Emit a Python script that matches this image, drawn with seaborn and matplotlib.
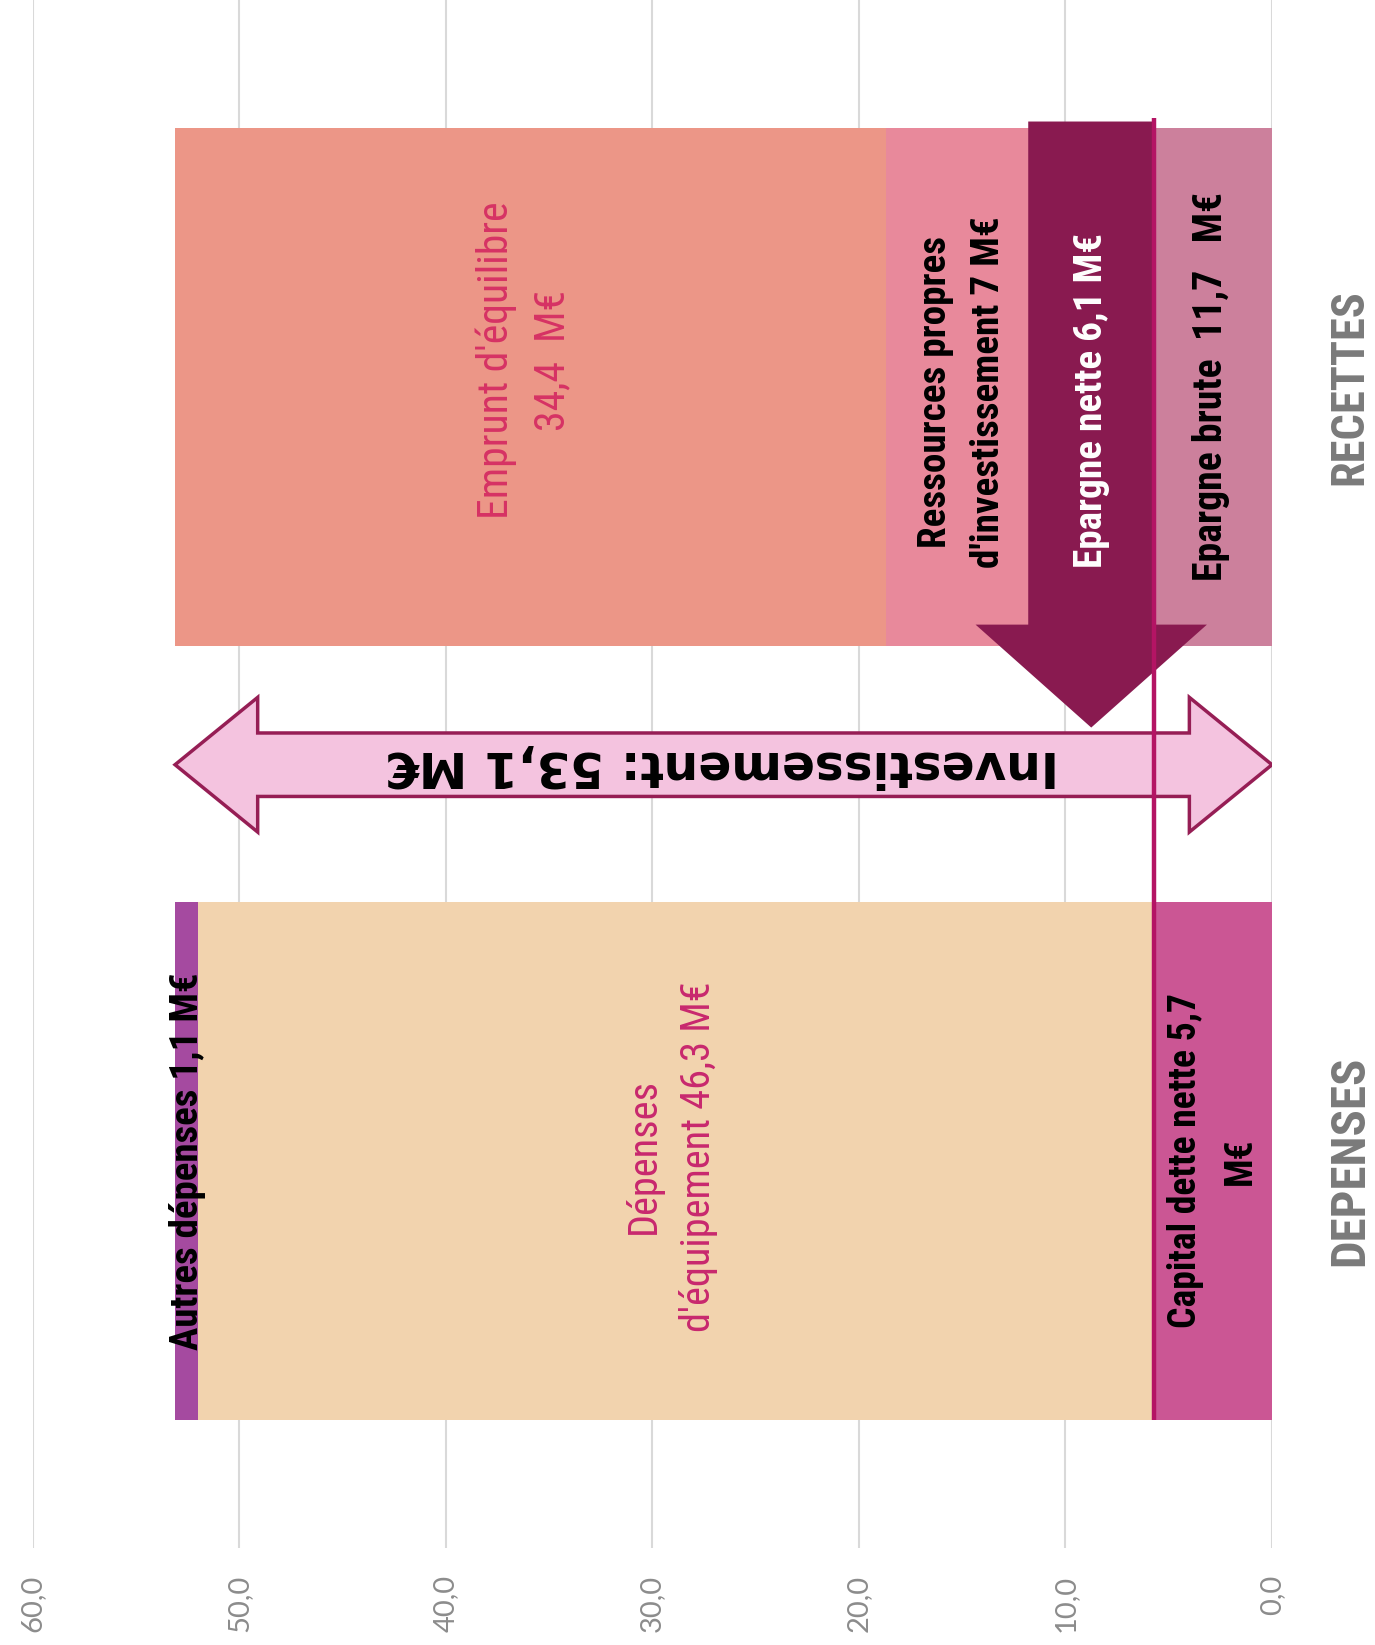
import os
import matplotlib
matplotlib.use("Agg")
import matplotlib.pyplot as plt
from matplotlib.patches import Polygon
from matplotlib.ticker import FuncFormatter, MultipleLocator
from matplotlib import font_manager as fm
from matplotlib.transforms import blended_transform_factory
import seaborn as sns
import pandas as pd

# ---------------- data ----------------
categories = ["RECETTES", "DEPENSES"]
recettes_labels = ["Epargne brute", "Ressources propres", "Emprunt d'équilibre"]
recettes_values = [11.7, 7.0, 34.4]
depenses_labels = ["Capital dette nette", "Dépenses d'équipement", "Autres dépenses"]
depenses_values = [5.7, 46.3, 1.1]
epargne_nette = 6.1
investissement = 53.1

recettes_colors = ["#CC809C", "#E8899B", "#EC9687"]
depenses_colors = ["#CB5694", "#F2D3AE", "#A54AA0"]

sns.set_style("white")
plt.rcParams["font.family"] = ["Lato", "DejaVu Sans"]


def find_font(names):
    files = {os.path.basename(f.fname).lower(): f.fname for f in fm.fontManager.ttflist}
    for n in names:
        if n in files:
            return files[n]
    return None


bold_file = find_font(["liberationsansnarrow-bold.ttf", "notosans-condensedbold.ttf",
                       "robotocondensed-bold.ttf", "dejavusanscondensed-bold.ttf",
                       "liberationsans-bold.ttf"])
reg_file = find_font(["liberationsansnarrow-regular.ttf", "notosans-condensedmedium.ttf",
                      "notosans-condensed.ttf", "robotocondensed-regular.ttf",
                      "dejavusanscondensed.ttf", "liberationsans-regular.ttf"])


def fprop(fname, weight):
    if fname:
        return fm.FontProperties(fname=fname)
    return fm.FontProperties(family="DejaVu Sans", weight=weight)


fig = plt.figure(figsize=(13.75, 16.45), dpi=100)
ax = fig.add_axes([32.5 / 1375, (1645 - 1548) / 1645, (1272 - 32.5) / 1375, 1548 / 1645])

# build stacked segments as cumulative ends
rows = []
for cat, vals, cols in [("RECETTES", recettes_values, recettes_colors),
                        ("DEPENSES", depenses_values, depenses_colors)]:
    cum = 0
    for v, c in zip(vals, cols):
        cum += v
        rows.append({"cat": cat, "end": cum, "color": c})
seg = pd.DataFrame(rows).sort_values("end", ascending=False)

BW = 0.67
for _, r in seg.iterrows():
    sns.barplot(data=pd.DataFrame({"cat": [r["cat"]], "end": [r["end"]]}),
                x="end", y="cat", order=categories, orient="h",
                color=r["color"], width=BW, saturation=1, edgecolor="none",
                linewidth=0, ax=ax, zorder=2)

# axes styling
ax.set_xlim(60, 0)
ax.set_ylim(1.5, -0.5)
ax.xaxis.set_major_locator(MultipleLocator(10))
ax.xaxis.set_major_formatter(FuncFormatter(lambda v, p: f"{v:.1f}".replace(".", ",")))
ax.grid(axis="x", color="#D9D9D9", lw=1.5, zorder=0)
ax.grid(axis="y", visible=False)
ax.set_axisbelow(True)
for s in ax.spines.values():
    s.set_visible(False)
ax.set_xlabel("")
ax.set_ylabel("")
ax.tick_params(axis="x", length=0, pad=19, labelsize=21, labelcolor="#8C8C8C", labelrotation=90)
ax.yaxis.tick_right()
ax.tick_params(axis="y", length=0, pad=56)

renderer = fig.canvas.get_renderer()


def fit(t, target, maxsize=None, along="h"):
    bb = t.get_window_extent(renderer=renderer)
    length = bb.height if along == "h" else bb.width
    size = t.get_fontsize() * target / length
    if maxsize:
        size = min(size, maxsize)
    t.set_fontsize(size)
    return size


cat_len = {"RECETTES": 196, "DEPENSES": 210}
for lab in ax.get_yticklabels():
    lab.set_fontproperties(fprop(bold_file, "bold"))
    lab.set_fontsize(30)
    lab.set_rotation(90)
    lab.set_va("center")
    lab.set_ha("center")
    lab.set_color("#7A7A7A")
    fit(lab, cat_len.get(lab.get_text(), 200), maxsize=40)

# Epargne nette arrow (dark)
cap = depenses_values[0]
x0, x1 = cap, cap + epargne_nette
xc = (x0 + x1) / 2
arrow = Polygon([[x0, -0.343], [x1, -0.343], [x1, 0.307], [xc + 5.6, 0.307],
                 [xc, 0.44], [xc - 5.6, 0.307], [x0, 0.307]],
                closed=True, facecolor="#891A50", edgecolor="none", zorder=3)
ax.add_patch(arrow)

# Investissement double arrow
yc, sh, hh, hl = 0.488, 0.041, 0.087, 4.0
L, R = investissement, 0.0
dbl = Polygon([[L, yc], [L - hl, yc - hh], [L - hl, yc - sh], [R + hl, yc - sh],
               [R + hl, yc - hh], [R, yc], [R + hl, yc + hh], [R + hl, yc + sh],
               [L - hl, yc + sh], [L - hl, yc + hh]],
              closed=True, facecolor="#F4C3DF", edgecolor="#961E55", lw=2.5, zorder=4)
ax.add_patch(dbl)
ax.text(26.6, yc, "Investissement: 53,1 M€", rotation=180, ha="center", va="center",
        fontsize=35, fontweight="bold", family=["DejaVu Sans"], color="black", zorder=6)

# vertical line at capital dette
ax.plot([cap, cap], [-0.348, 1.335], color="#B41464", lw=3.2, zorder=5, solid_capstyle="butt")


# segment labels
def lbl(x, y, s, target, color="black", bold=True, gap=48):
    t = ax.text(x, y, s, rotation=90, ha="center", va="center", fontsize=20,
                color=color, multialignment="center", zorder=7,
                fontproperties=fprop(bold_file if bold else reg_file, "bold" if bold else "normal"))
    size = fit(t, target, maxsize=30)
    em = size * 100 / 72
    t.set_linespacing(gap / (0.78 * em))
    return t


lbl(36.2, -0.034, "Emprunt d'équilibre\n34,4  M€", 346, color="#D63264", bold=False)
lbl(15.0, 0.006, "Ressources propres\nd'investissement 7 M€", 350)
lbl(8.75, 0.017, "Epargne nette 6,1 M€", 334, color="white")
lbl(2.95, -0.001, "Epargne brute  11,7   M€", 388)
lbl(52.5, 1.0, "Autres dépenses 1,1 M€", 376)
lbl(29.1, 0.994, "Dépenses\nd'équipement 46,3 M€", 350, color="#C8286E", bold=False)
lbl(2.85, 1.0, "Capital dette nette 5,7\nM€", 334)

fig.savefig("out.png", dpi=100)
